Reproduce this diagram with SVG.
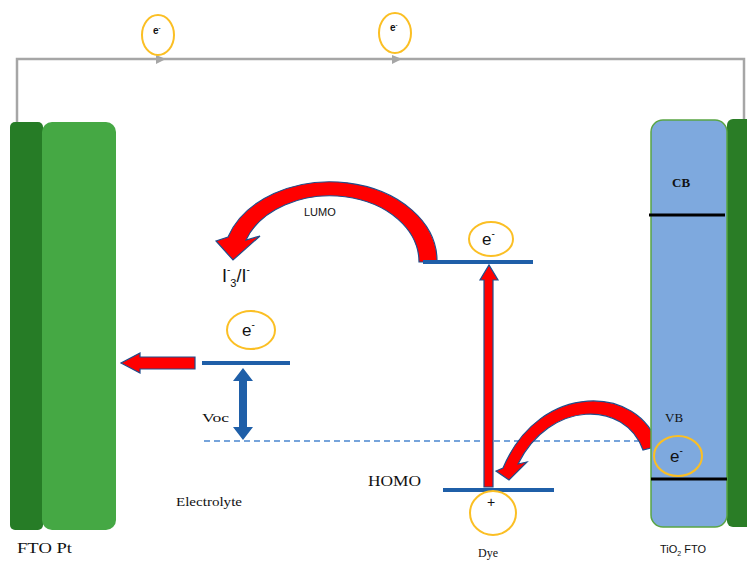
<svg xmlns="http://www.w3.org/2000/svg" width="747" height="562" viewBox="0 0 747 562">
<style>
.circ{fill:none;stroke:#fbbf24;stroke-width:2}
.lvl{stroke:#1f5fa8;stroke-width:4;fill:none}
.red{fill:#ff0000;stroke:#1f4e8c;stroke-width:1.2}
.serif{font-family:"Liberation Serif","DejaVu Serif",serif;fill:#111}
.sans{font-family:"Liberation Sans","DejaVu Sans",sans-serif;fill:#111}
.wire{stroke:#a6a6a6;stroke-width:2.5;fill:none}
</style>
<rect width="747" height="562" fill="#fff"/>
<g id="connectors">
  <path class="wire" d="M17 122 V59 H744 V120"/>
  <polygon points="156,55 166,59 156,64" fill="#a6a6a6"/>
  <polygon points="392,55 402,59 392,64" fill="#a6a6a6"/>
  <line x1="204" y1="441" x2="720" y2="441" stroke="#4a86d0" stroke-width="1.5" stroke-dasharray="6 4"/>
  <path class="red" d="M437 262 A107 79 0 0 0 228 237 L216 241 L233 260 L260 236 L246 240 A89 66 0 0 1 419 262 Z"/>
  <path class="red" d="M658 446 C640 385 540 380 503 468 L496 471 L509 480 L527 462 L518 464 C550 400 625 400 643 450 Z"/>
  <polygon class="red" points="484,487 493,487 493,280 498,280 489,265 480,280 484,280"/>
  <polygon class="red" points="195,357 140,357 140,353 121,363 140,373 140,369 195,369"/>
  <polygon fill="#1f5fa8" points="239,381 239,427 233,427 243,440 253,427 247,427 247,381 253,381 243,368 233,381"/>
</g>
<g id="left-electrode">
  <rect x="10" y="122" width="33" height="408" rx="5" fill="#267c26"/>
  <rect x="42" y="122" width="74" height="408" rx="10" fill="#45a844"/>
  <text class="serif" x="17" y="553" font-size="14" textLength="55" lengthAdjust="spacingAndGlyphs">FTO  Pt</text>
</g>
<g id="right-electrode">
  <rect x="727" y="119" width="30" height="408" rx="6" fill="#2a7d26"/>
  <rect x="651" y="120" width="76" height="407" rx="12" fill="#7ea9de" stroke="#5aa544" stroke-width="1.5"/>
  <line x1="649" y1="215" x2="725" y2="215" stroke="#000" stroke-width="3"/>
  <line x1="651" y1="479" x2="727" y2="479" stroke="#000" stroke-width="3"/>
  <text class="serif" x="672" y="187" font-size="13" font-weight="bold" fill="#1c2b3a">CB</text>
  <text class="serif" x="665" y="422" font-size="13">VB</text>
  <ellipse class="circ" cx="678" cy="456" rx="24" ry="20"/>
  <text class="sans" x="670" y="462" font-size="17">e<tspan font-size="10" dy="-8">-</tspan></text>
  <text class="sans" x="660" y="553" font-size="11">TiO<tspan font-size="7" dy="3">2</tspan><tspan dy="-3"> FTO</tspan></text>
</g>
<g id="electron-top-1">
  <ellipse class="circ" cx="158" cy="35" rx="16" ry="20"/>
  <text class="sans" x="153" y="34" font-size="10" font-weight="bold">e<tspan font-size="6" dy="-4">-</tspan></text>
</g>
<g id="electron-top-2">
  <ellipse class="circ" cx="395" cy="33" rx="16" ry="20"/>
  <text class="sans" x="390" y="31" font-size="10" font-weight="bold">e<tspan font-size="6" dy="-4">-</tspan></text>
</g>
<g id="electrolyte">
  <line class="lvl" x1="202" y1="363" x2="290" y2="363"/>
  <ellipse class="circ" cx="251" cy="330" rx="24" ry="19"/>
  <text class="sans" x="242" y="336" font-size="17">e<tspan font-size="10" dy="-8">-</tspan></text>
  <text class="serif" x="202" y="422" font-size="13" textLength="27" lengthAdjust="spacingAndGlyphs">Voc</text>
  <text class="serif" x="176" y="506" font-size="13" textLength="66" lengthAdjust="spacingAndGlyphs">Electrolyte</text>
  <text class="sans" x="222" y="282" font-size="18">I<tspan font-size="10" dy="-9">-</tspan><tspan font-size="11" dy="14">3</tspan><tspan dy="-5">/I</tspan><tspan font-size="10" dy="-9">-</tspan></text>
</g>
<g id="dye">
  <line class="lvl" x1="423" y1="262" x2="533" y2="262"/>
  <line class="lvl" x1="443" y1="490" x2="554" y2="490"/>
  <ellipse class="circ" cx="491" cy="239" rx="22" ry="17"/>
  <text class="sans" x="482" y="245" font-size="17">e<tspan font-size="10" dy="-8">-</tspan></text>
  <ellipse class="circ" cx="493" cy="513" rx="23" ry="22"/>
  <text class="sans" x="487" y="507" font-size="14">+</text>
  <text class="sans" x="304" y="216" font-size="11">LUMO</text>
  <text class="serif" x="368" y="486" font-size="14" textLength="53" lengthAdjust="spacingAndGlyphs">HOMO</text>
  <text class="serif" x="478" y="557" font-size="12">Dye</text>
</g>
</svg>
